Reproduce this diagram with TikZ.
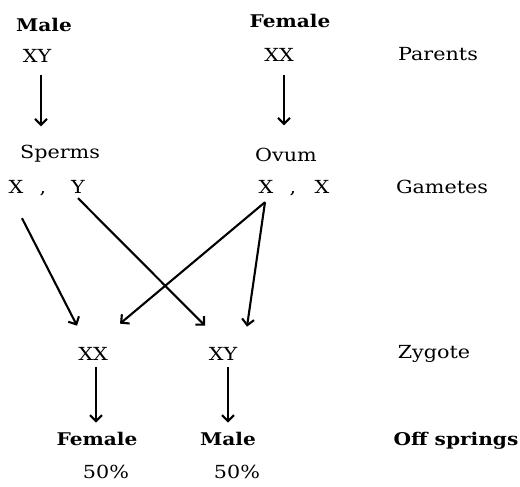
\documentclass[tikz,border=0pt]{standalone}
\usepackage{fontspec}
\setmainfont[FakeStretch=1.15]{DejaVu Serif}
\usetikzlibrary{arrows.meta,calc}
\begin{document}
\begin{tikzpicture}[x=1pt,y=-1pt,
  lab/.style={anchor=base,inner sep=0pt,font=\fontsize{18}{20}\selectfont},
  blab/.style={anchor=base,inner sep=0pt,font=\fontsize{17.5}{20}\selectfont\bfseries},
  arr/.style={line width=2.1pt,-{Straight Barb[length=6pt,width=12pt,line width=2.1pt]}}]
\useasboundingbox (0,0) rectangle (520,487);
\fill[white] (0,0) rectangle (520,487);
% parents
\node[blab] (mlab) at (44,32) {Male};
\node[lab] (mxy) at (37,63) {XY};
\node[blab] (flab) at (290,28) {Female};
\node[lab] (fxx) at (279,62) {XX};
\node[lab] (parents) at (438,61) {Parents};
% gametes
\node[lab] (sperms) at (60,158) {Sperms};
\node[lab] (ovum) at (286,161) {Ovum};
\node[lab] (mX) at (16,193) {X};
\node[lab] (mc) at (43,193) {,};
\node[lab] (mY) at (78,193) {Y};
\node[lab] (fX1) at (266,193) {X};
\node[lab] (fc) at (293,193) {,};
\node[lab] (fX2) at (322,193) {X};
\node[lab] (gametes) at (442,193) {Gametes};
% zygote
\node[lab] (zxx) at (93,360) {XX};
\node[lab] (zxy) at (223,360) {XY};
\node[lab] (zygote) at (434,358) {Zygote};
% offsprings
\node[blab] (ofem) at (97,445) {Female};
\node[blab] (omale) at (228,445) {Male};
\node[blab] (offs) at (456,445) {Off springs};
\node[lab] (p1) at (106,478) {50\%};
\node[lab] (p2) at (237,478) {50\%};
% arrows
\draw[arr] ($(mxy.south)+(4,12)$) -- ($(sperms.north)+(-19,-18)$);
\draw[arr] ($(fxx.south)+(5,13)$) -- ($(ovum.north)+(-2,-22)$);
\draw[arr] ($(mX.south)+(6,25)$) -- ($(zxx.north)+(-16,-21)$);
\draw[arr] ($(mY.south)+(0,5)$) -- ($(zxy.north)+(-18,-21)$);
\draw[arr] ($(fX1.south)+(-1,9)$) -- ($(zxx.north)+(27,-23)$);
\draw[arr] ($(fX1.south)+(-1,9)$) -- ($(zxy.north)+(24,-20)$);
\draw[arr] ($(zxx.south)+(3,7)$) -- ($(ofem.north)+(-1,-9)$);
\draw[arr] ($(zxy.south)+(5,7)$) -- ($(omale.north)+(0,-9)$);
\end{tikzpicture}
\end{document}
